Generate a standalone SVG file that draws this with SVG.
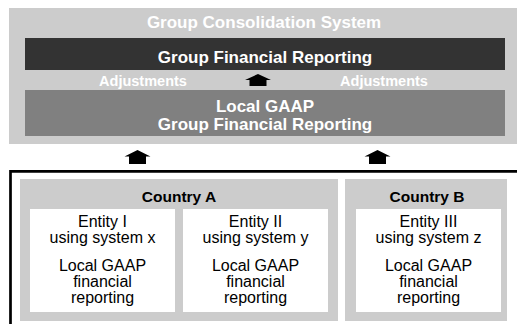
<svg xmlns="http://www.w3.org/2000/svg" width="517" height="324" viewBox="0 0 517 324">
<style>
text{font-family:"Liberation Sans",Arial,sans-serif;text-anchor:middle}
.w{fill:#ffffff;font-weight:bold}
.t{font-size:17px}
.adj{font-size:14.5px}
.b{fill:#000000;font-weight:bold;font-size:15.5px}
.r{fill:#000000;font-size:16px}
.lg{fill:#cccccc}
.ent{fill:#ffffff}
.arr{fill:#000000}
</style>
<rect width="517" height="324" fill="#ffffff"/>
<g id="group-consolidation-system">
<rect class="lg" x="9" y="8" width="508" height="136"/>
<text class="w t" x="264" y="28">Group Consolidation System</text>
</g>
<g id="group-financial-reporting">
<rect x="25" y="38" width="480" height="32" fill="#333333"/>
<text class="w t" x="265" y="63">Group Financial Reporting</text>
</g>
<g id="adjustments">
<text class="w adj" x="143" y="86">Adjustments</text>
<text class="w adj" x="384" y="86">Adjustments</text>
</g>
<g id="local-gaap-group">
<rect x="25" y="90" width="480" height="46" fill="#808080"/>
<text class="w t" x="265" y="112">Local GAAP</text>
<text class="w t" x="265" y="130">Group Financial Reporting</text>
</g>
<g id="entities-frame">
<path d="M10.5,324 V171.3 H517" fill="none" stroke="#000000" stroke-width="2.7"/>
</g>
<g id="country-a">
<rect class="lg" x="20" y="179" width="318" height="142"/>
<text class="b" x="179" y="202">Country A</text>
</g>
<g id="entity-i">
<rect class="ent" x="30" y="209" width="145" height="103"/>
<text class="r" x="102.5" y="227">Entity I</text>
<text class="r" x="102.5" y="243">using system x</text>
<text class="r" x="102.5" y="271">Local GAAP</text>
<text class="r" x="102.5" y="287">financial</text>
<text class="r" x="102.5" y="303">reporting</text>
</g>
<g id="entity-ii">
<rect class="ent" x="183" y="209" width="145" height="103"/>
<text class="r" x="255.5" y="227">Entity II</text>
<text class="r" x="255.5" y="243">using system y</text>
<text class="r" x="255.5" y="271">Local GAAP</text>
<text class="r" x="255.5" y="287">financial</text>
<text class="r" x="255.5" y="303">reporting</text>
</g>
<g id="country-b">
<rect class="lg" x="345" y="179" width="162" height="142"/>
<text class="b" x="427" y="202">Country B</text>
</g>
<g id="entity-iii">
<rect class="ent" x="356" y="209" width="145" height="103"/>
<text class="r" x="428.5" y="227">Entity III</text>
<text class="r" x="428.5" y="243">using system z</text>
<text class="r" x="428.5" y="271">Local GAAP</text>
<text class="r" x="428.5" y="287">financial</text>
<text class="r" x="428.5" y="303">reporting</text>
</g>
<g id="connectors">
<path class="arr" d="M258,74 L271,80 L266.5,80 L266.5,86 L249.5,86 L249.5,80 L245,80 Z"/>
<path class="arr" d="M137.5,150 L150.5,156.5 L146,156.5 L146,164 L129,164 L129,156.5 L124.5,156.5 Z"/>
<path class="arr" d="M377.5,150 L390.5,156.5 L386,156.5 L386,164 L369,164 L369,156.5 L364.5,156.5 Z"/>
</g>
</svg>
